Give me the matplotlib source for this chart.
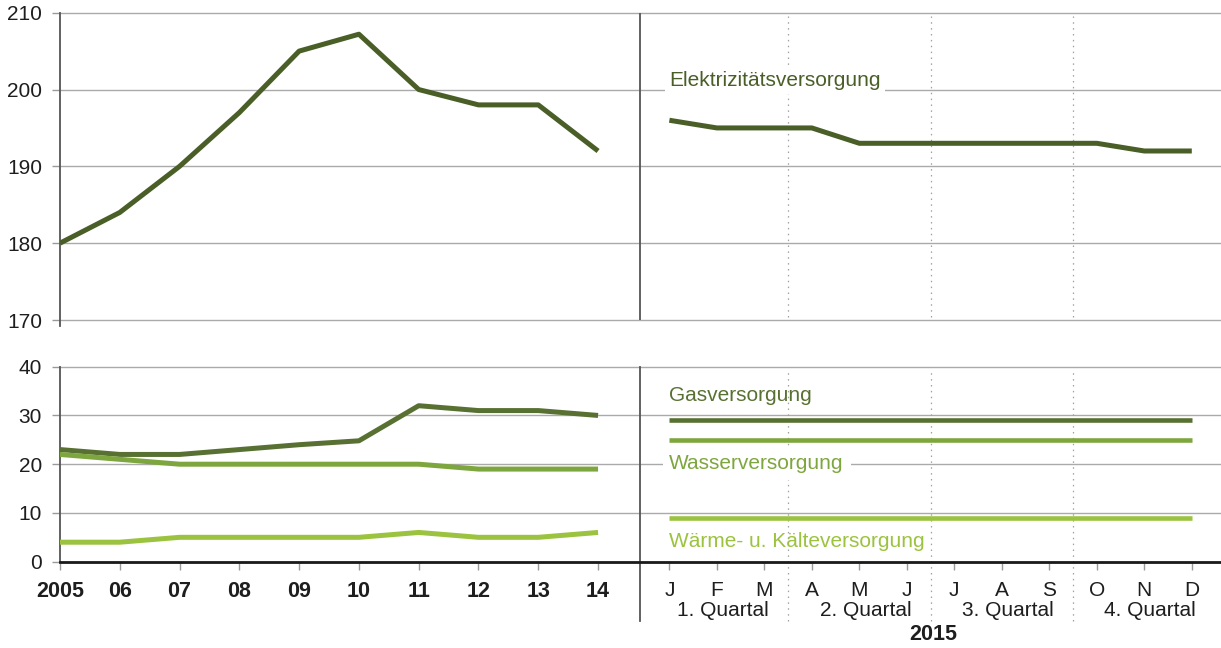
import matplotlib
matplotlib.use('Agg')
import matplotlib.pyplot as plt
import numpy as np

plt.rcParams['font.family'] = ['Liberation Sans', 'DejaVu Sans']

# ---------------- data ----------------
years = ['2005', '06', '07', '08', '09', '10', '11', '12', '13', '14']
months = ['J', 'F', 'M', 'A', 'M', 'J', 'J', 'A', 'S', 'O', 'N', 'D']
quarters = ['1. Quartal', '2. Quartal', '3. Quartal', '4. Quartal']
year_label = '2015'

elektro_years = [180, 184, 190, 197, 205, 207.2, 200, 198, 198, 192]
elektro_months = [196, 195, 195, 195, 193, 193, 193, 193, 193, 193, 192, 192]

gas_years = [23, 22, 22, 23, 24, 24.8, 32, 31, 31, 30]
gas_months = [29, 29, 29, 29, 29, 29, 29, 29, 29, 29, 29, 29]

wasser_years = [22, 21, 20, 20, 20, 20, 20, 19, 19, 19]
wasser_months = [25, 25, 25, 25, 25, 25, 25, 25, 25, 25, 25, 25]

waerme_years = [4, 4, 5, 5, 5, 5, 6, 5, 5, 6]
waerme_months = [9, 9, 9, 9, 9, 9, 9, 9, 9, 9, 9, 9]

names = ['Elektrizitätsversorgung', 'Gasversorgung', 'Wasserversorgung',
         'Wärme- u. Kälteversorgung']

# ---------------- styles ----------------
C_ELEK = '#4a5e27'
C_GAS = '#587132'
C_WASSER = '#7ea63e'
C_WAERME = '#9bc33f'
GRID = '#aaaaaa'
SPINE = '#555555'
TXT = '#1e1e1e'
FS = 15

# layout of the two x segments (years, months) on one axis
MONTH_STEP = 0.7944
MONTH_START = 10.193
SEP = 9.697
XMAX = 19.42
x_years = np.arange(len(years), dtype=float)
x_months = MONTH_START + np.arange(len(months)) * MONTH_STEP
q_div = [(x_months[i] + x_months[i + 1]) / 2 for i in (2, 5, 8)]
q_mid = [x_months[i] for i in (1, 4, 7, 10)]

fig = plt.figure(figsize=(12.21, 6.48), dpi=100)
L = 60 / 1221
ax1 = fig.add_axes([L, 1 - 320 / 648, 1 - L, 307.3 / 648])
ax2 = fig.add_axes([L, 1 - 561.7 / 648, 1 - L, 195 / 648])

for ax in (ax1, ax2):
    ax.set_xlim(0, XMAX)
    ax.set_axisbelow(True)
    ax.grid(axis='y', color=GRID, lw=1)
    ax.grid(axis='x', visible=False)
    ax.spines['top'].set_visible(False)
    ax.spines['right'].set_visible(False)
    ax.spines['left'].set_color(SPINE)
    ax.spines['left'].set_linewidth(1.3)
    ax.tick_params(axis='y', length=6, width=1, color='#9a9a9a', pad=7,
                   labelsize=FS, labelcolor=TXT)

# ---- top panel ----
ax1.set_ylim(170, 210)
ax1.set_yticks([170, 180, 190, 200, 210])
ax1.spines['bottom'].set_visible(False)
ax1.spines['left'].set_bounds(169.2, 210)
ax1.tick_params(axis='x', length=0, labelbottom=False)
ax1.set_xticks([])
ax1.axvline(SEP, color=SPINE, lw=1.3)
for q in q_div:
    ax1.axvline(q, ymin=0.01, ymax=0.99, color='#a0a0a0', lw=0.9, ls=(0, (1.2, 3.5)))

lw = 3.6
ax1.plot(x_years, elektro_years, color=C_ELEK, lw=lw, solid_capstyle='butt', zorder=3)
ax1.plot(x_months, elektro_months, color=C_ELEK, lw=lw, solid_capstyle='butt', zorder=3)
ax1.text(x_months[0], 200.5, names[0], color=C_ELEK, fontsize=FS, ha='left',
         va='baseline', zorder=4,
         bbox=dict(facecolor='white', edgecolor='none', pad=3))

# ---- bottom panel ----
ax2.set_ylim(0, 40)
ax2.set_yticks([0, 10, 20, 30, 40])
ax2.spines['bottom'].set_color('#1a1a1a')
ax2.spines['bottom'].set_linewidth(2)
ax2.set_xticks(np.concatenate([x_years, x_months]))
ax2.set_xticklabels(years + months)
ax2.tick_params(axis='x', length=6, width=1, color='#9a9a9a', pad=8,
                labelsize=FS, labelcolor=TXT)
for lab in ax2.get_xticklabels()[:len(years)]:
    lab.set_fontweight('bold')
    lab.set_fontsize(15.5)

for ax in (ax1, ax2):
    for gl in ax.get_ygridlines():
        gl.set_clip_on(False)

ax2.axvline(SEP, ymin=-0.303, ymax=1, color=SPINE, lw=1.3, clip_on=False)
for q in q_div:
    ax2.axvline(q, ymin=-0.303, ymax=0.985, color='#a0a0a0', lw=0.9,
                ls=(0, (1.2, 3.5)), clip_on=False)

ax2.plot(x_years, gas_years, color=C_GAS, lw=lw, solid_capstyle='butt', zorder=3)
ax2.plot(x_years, wasser_years, color=C_WASSER, lw=lw, solid_capstyle='butt', zorder=3)
ax2.plot(x_years, waerme_years, color=C_WAERME, lw=lw, solid_capstyle='butt', zorder=3)
ax2.plot(x_months, gas_months, color=C_GAS, lw=3.3, solid_capstyle='butt', zorder=3)
ax2.plot(x_months, wasser_months, color=C_WASSER, lw=3.3, solid_capstyle='butt', zorder=3)
ax2.plot(x_months, waerme_months, color=C_WAERME, lw=3.3, solid_capstyle='butt', zorder=3)

box = dict(facecolor='white', edgecolor='none', pad=5)
ax2.text(x_months[0], 33.0, names[1], color=C_GAS, fontsize=FS, ha='left',
         va='baseline', zorder=4)
ax2.text(x_months[0], 19.0, names[2], color=C_WASSER, fontsize=FS, ha='left',
         va='baseline', zorder=4, bbox=box)
ax2.text(x_months[0], 3.1, names[3], color=C_WAERME, fontsize=FS, ha='left',
         va='baseline', zorder=4)

for q, m in zip(quarters, q_mid):
    ax2.annotate(q, xy=(m, 0), xycoords=('data', 'axes fraction'),
                 xytext=(6, -49), textcoords='offset pixels',
                 ha='center', va='center', fontsize=FS, color=TXT)
ax2.annotate(year_label, xy=(q_div[1], 0), xycoords=('data', 'axes fraction'),
             xytext=(3, -73), textcoords='offset pixels',
             ha='center', va='center', fontsize=15.5, fontweight='bold', color=TXT)

fig.savefig('out.png', dpi=100)
